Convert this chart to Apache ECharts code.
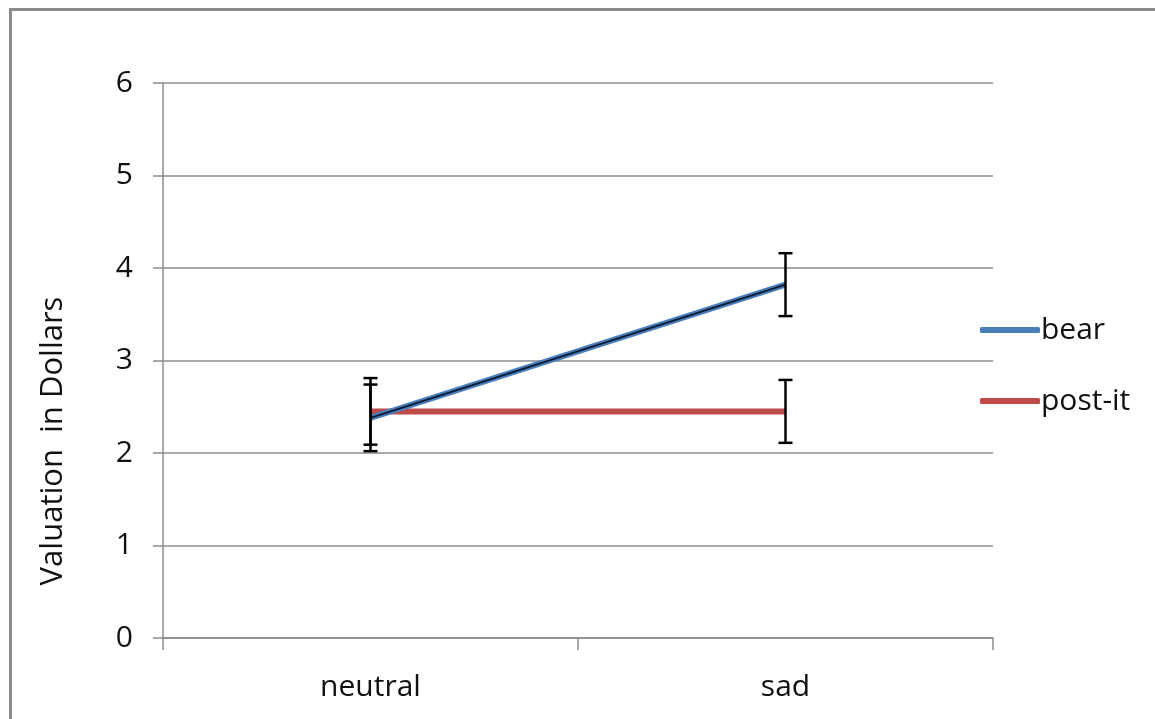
<!DOCTYPE html>
<html>
<head>
<meta charset="utf-8">
<script src="https://cdn.jsdelivr.net/npm/echarts@6/dist/echarts.min.js"></script>
<style>html,body{margin:0;padding:0;background:#fff;}#c{width:1155px;height:719px;}</style>
</head>
<body>
<div id="c"></div>
<script>
const categories = ['neutral', 'sad'];
const bearValues = [2.38, 3.82];
const postitValues = [2.45, 2.45];
const bearErrors = [0.36, 0.34];
const postitErrors = [0.36, 0.34];
const yTicks = [0, 1, 2, 3, 4, 5, 6];
const yAxisTitle = 'Valuation  in Dollars';

const FONT = '"Open Sans", sans-serif';

function errData(vals, errs) {
  return vals.map((v, i) => [i, v - errs[i], v + errs[i]]);
}
function errRender(params, api) {
  const x = api.value(0);
  const lo = api.coord([x, api.value(1)]);
  const hi = api.coord([x, api.value(2)]);
  const hw = 7;
  const style = { stroke: '#000', lineWidth: 2.5 };
  return {
    type: 'group',
    children: [
      { type: 'line', shape: { x1: lo[0], y1: lo[1], x2: hi[0], y2: hi[1] }, style },
      { type: 'line', shape: { x1: lo[0] - hw, y1: lo[1], x2: lo[0] + hw, y2: lo[1] }, style },
      { type: 'line', shape: { x1: hi[0] - hw, y1: hi[1], x2: hi[0] + hw, y2: hi[1] }, style }
    ]
  };
}

const chart = echarts.init(document.getElementById('c'), null, { renderer: 'canvas' });
chart.setOption({
  animation: false,
  backgroundColor: '#fff',
  graphic: [{
    type: 'rect', left: 8, top: 7, z: -1,
    shape: { width: 1300, height: 900 },
    style: { fill: 'none', stroke: '#8a8a8a', lineWidth: 3 }
  }, {
    type: 'text', x: 53, y: 441, rotation: Math.PI / 2,
    style: { text: yAxisTitle, fontFamily: FONT, fontSize: 31, fill: '#111',
      align: 'center', verticalAlign: 'middle' }
  }],
  grid: { left: 163, right: 162, top: 83, bottom: 81 },
  legend: {
    orient: 'vertical', left: 975, top: 310,
    itemWidth: 60, itemHeight: 6, itemGap: 41,
    icon: 'roundRect',
    textStyle: { fontFamily: FONT, fontSize: 30, color: '#111', padding: [0, 0, 0, -4] },
    data: [
      { name: 'bear', itemStyle: { color: '#4a7ebb' } },
      { name: 'post-it', itemStyle: { color: '#be4b48' } }
    ]
  },
  xAxis: {
    type: 'category', data: categories, boundaryGap: true,
    axisLine: { lineStyle: { color: '#8c8c8c', width: 1.5 } },
    axisTick: { show: true, length: 12, lineStyle: { color: '#8c8c8c', width: 1.5 } },
    axisLabel: { fontFamily: FONT, fontSize: 30, color: '#111', margin: 34 }
  },
  yAxis: {
    type: 'value', min: 0, max: 6, interval: 1,
    axisLine: { show: true, lineStyle: { color: '#8c8c8c', width: 1.5 } },
    axisTick: { show: true, length: 10, lineStyle: { color: '#8c8c8c', width: 1.5 } },
    axisLabel: { fontFamily: FONT, fontSize: 30, color: '#111', margin: 30,
      formatter: v => yTicks.includes(v) ? String(v) : '' },
    splitLine: { lineStyle: { color: '#8c8c8c', width: 1.5 } }
  },
  series: [
    { name: 'post-it', type: 'line', data: postitValues, symbol: 'none',
      lineStyle: { color: '#be4b48', width: 6 }, itemStyle: { color: '#be4b48' }, z: 2 },
    { name: 'bear', type: 'line', data: bearValues, symbol: 'none',
      lineStyle: { color: '#4a7ebb', width: 6 }, itemStyle: { color: '#4a7ebb' }, z: 3 },
    { name: 'bear-core', type: 'line', data: bearValues, symbol: 'none',
      lineStyle: { color: '#0a1a33', width: 2 }, z: 4, silent: true },
    { name: 'bear-err', type: 'custom', renderItem: errRender, data: errData(bearValues, bearErrors), z: 5 },
    { name: 'postit-err', type: 'custom', renderItem: errRender, data: errData(postitValues, postitErrors), z: 5 }
  ]
});
</script>
</body>
</html>
